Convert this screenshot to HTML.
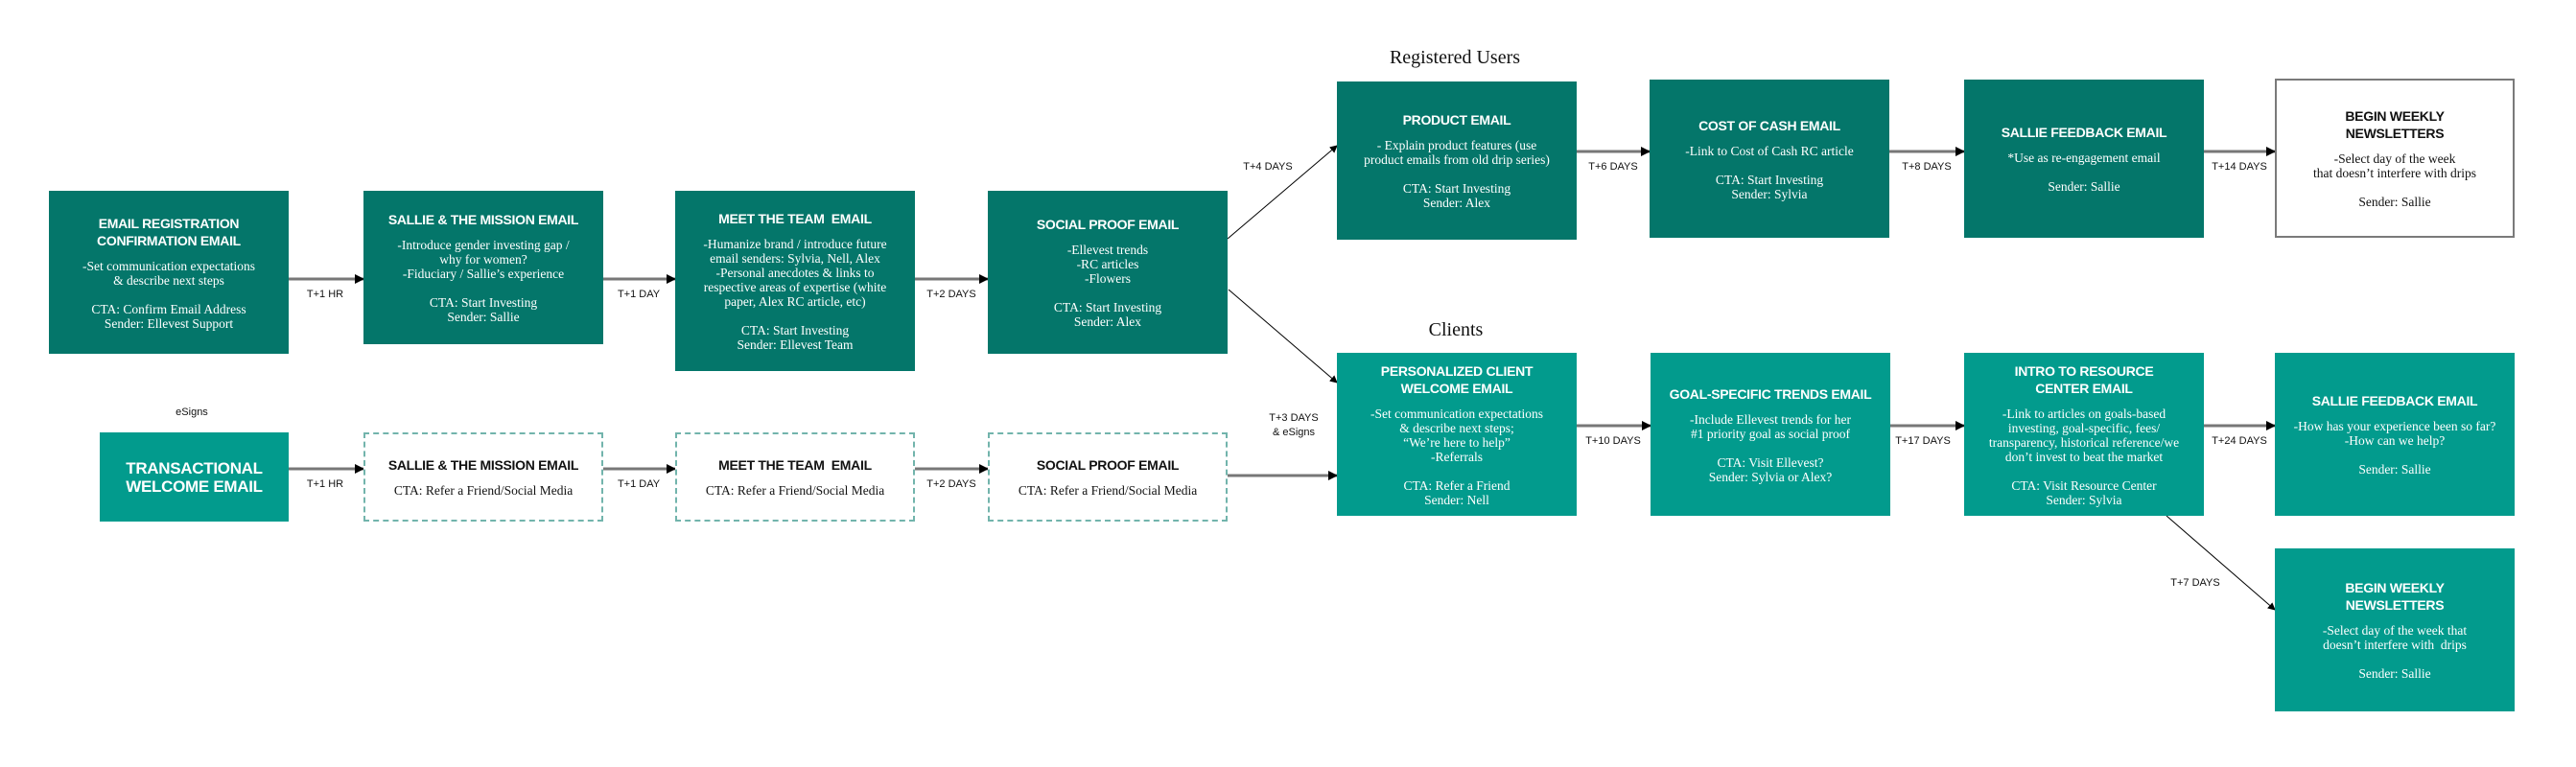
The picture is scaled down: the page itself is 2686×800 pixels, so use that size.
<!DOCTYPE html>
<html><head><meta charset="utf-8"><style>
body{margin:0;width:2686px;height:800px;background:#fff;position:relative;overflow:hidden}
.b{position:absolute;width:250px;display:flex;flex-direction:column;justify-content:center;align-items:center;text-align:center;box-sizing:border-box;color:#fff;font-family:"Liberation Serif",serif;font-size:13.5px;line-height:15px;padding:0 6px}
.d{background:#04766a}.l{background:#029b8d}
.w{background:#fff;color:#111;border:2px solid #7a7a7a}
.x{background:#fff;color:#111;border:2px dashed #72b4ac}
.t{font-family:"Liberation Sans",sans-serif;font-weight:bold;font-size:14px;line-height:18px;margin-bottom:10px;letter-spacing:-0.3px}
.big{font-size:17px;line-height:19px;margin:0}
.h{position:absolute;font-family:"Liberation Serif",serif;font-size:20px;color:#111;transform:translateX(-50%)}
</style></head><body>
<svg width="2686" height="800" style="position:absolute;left:0;top:0">
<defs>
<marker id="a" markerWidth="8" markerHeight="8" refX="7" refY="4" orient="auto" markerUnits="userSpaceOnUse"><path d="M0,0L8,4L0,8z" fill="#000"/></marker>
<marker id="s" markerWidth="10" markerHeight="10" refX="9" refY="5" orient="auto" markerUnits="userSpaceOnUse"><path d="M0,0L10,5L0,10z" fill="#000"/></marker>
</defs>
<g stroke="#777" stroke-width="3" fill="none" marker-end="url(#s)">
<path d="M301,291H379"/><path d="M629,291H704"/><path d="M954,291H1030"/>
<path d="M1644,158H1720"/><path d="M1970,158H2048"/><path d="M2298,158H2372"/>
<path d="M301,489H379"/><path d="M629,489H704"/><path d="M954,489H1030"/><path d="M1280,496H1394"/>
<path d="M1644,444H1721"/><path d="M1971,444H2048"/><path d="M2298,444H2372"/>
</g>
<g stroke="#000" stroke-width="1" fill="none" marker-end="url(#a)">
<path d="M1280,249L1394,152"/><path d="M1281,302L1394,399"/><path d="M2259,538L2372,636"/>
</g>
<g font-family="Liberation Sans,sans-serif" font-size="11" fill="#111" text-anchor="middle">
<text x="339" y="310">T+1 HR</text><text x="666" y="310">T+1 DAY</text><text x="992" y="310">T+2 DAYS</text>
<text x="339" y="508">T+1 HR</text><text x="666" y="508">T+1 DAY</text><text x="992" y="508">T+2 DAYS</text>
<text x="200" y="433">eSigns</text>
<text x="1322" y="177">T+4 DAYS</text><text x="1682" y="177">T+6 DAYS</text><text x="2009" y="177">T+8 DAYS</text><text x="2335" y="177">T+14 DAYS</text>
<text x="1349" y="439">T+3 DAYS</text><text x="1349" y="454">&amp; eSigns</text>
<text x="1682" y="463">T+10 DAYS</text><text x="2005" y="463">T+17 DAYS</text><text x="2335" y="463">T+24 DAYS</text>
<text x="2289" y="611">T+7 DAYS</text>
</g>
</svg>
<div class="h" style="left:1517px;top:49px">Registered Users</div>
<div class="h" style="left:1518px;top:333px">Clients</div>

<div class="b d" style="left:51px;top:199px;height:170px"><div class="t">EMAIL REGISTRATION<br>CONFIRMATION EMAIL</div>-Set communication expectations<br>&amp; describe next steps<br><br>CTA: Confirm Email Address<br>Sender: Ellevest Support</div>
<div class="b d" style="left:379px;top:199px;height:160px"><div class="t">SALLIE &amp; THE MISSION EMAIL</div>-Introduce gender investing gap /<br>why for women?<br>-Fiduciary / Sallie’s experience<br><br>CTA: Start Investing<br>Sender: Sallie</div>
<div class="b d" style="left:704px;top:199px;height:188px"><div class="t">MEET THE TEAM &nbsp;EMAIL</div>-Humanize brand / introduce future<br>email senders: Sylvia, Nell, Alex<br>-Personal anecdotes &amp; links to<br>respective areas of expertise (white<br>paper, Alex RC article, etc)<br><br>CTA: Start Investing<br>Sender: Ellevest Team</div>
<div class="b d" style="left:1030px;top:199px;height:170px"><div class="t">SOCIAL PROOF EMAIL</div>-Ellevest trends<br>-RC articles<br>-Flowers<br><br>CTA: Start Investing<br>Sender: Alex</div>
<div class="b d" style="left:1394px;top:85px;height:165px"><div class="t">PRODUCT EMAIL</div>- Explain product features (use<br>product emails from old drip series)<br><br>CTA: Start Investing<br>Sender: Alex</div>
<div class="b d" style="left:1720px;top:83px;height:165px"><div class="t">COST OF CASH EMAIL</div>-Link to Cost of Cash RC article<br><br>CTA: Start Investing<br>Sender: Sylvia</div>
<div class="b d" style="left:2048px;top:83px;height:165px"><div class="t">SALLIE FEEDBACK EMAIL</div>*Use as re-engagement email<br><br>Sender: Sallie</div>
<div class="b w" style="left:2372px;top:82px;height:166px"><div class="t">BEGIN WEEKLY<br>NEWSLETTERS</div>-Select day of the week<br>that doesn’t interfere with drips<br><br>Sender: Sallie</div>

<div class="b l" style="left:104px;top:451px;width:197px;height:93px"><div class="t big">TRANSACTIONAL<br>WELCOME EMAIL</div></div>
<div class="b x" style="left:379px;top:451px;height:93px"><div class="t">SALLIE &amp; THE MISSION EMAIL</div>CTA: Refer a Friend/Social Media</div>
<div class="b x" style="left:704px;top:451px;height:93px"><div class="t">MEET THE TEAM &nbsp;EMAIL</div>CTA: Refer a Friend/Social Media</div>
<div class="b x" style="left:1030px;top:451px;height:93px"><div class="t">SOCIAL PROOF EMAIL</div>CTA: Refer a Friend/Social Media</div>
<div class="b l" style="left:1394px;top:368px;height:170px"><div class="t">PERSONALIZED CLIENT<br>WELCOME EMAIL</div>-Set communication expectations<br>&amp; describe next steps;<br>“We’re here to help”<br>-Referrals<br><br>CTA: Refer a Friend<br>Sender: Nell</div>
<div class="b l" style="left:1721px;top:368px;height:170px"><div class="t">GOAL-SPECIFIC TRENDS EMAIL</div>-Include Ellevest trends for her<br>#1 priority goal as social proof<br><br>CTA: Visit Ellevest?<br>Sender: Sylvia or Alex?</div>
<div class="b l" style="left:2048px;top:368px;height:170px"><div class="t">INTRO TO RESOURCE<br>CENTER EMAIL</div>-Link to articles on goals-based<br>investing, goal-specific, fees/<br>transparency, historical reference/we<br>don’t invest to beat the market<br><br>CTA: Visit Resource Center<br>Sender: Sylvia</div>
<div class="b l" style="left:2372px;top:368px;height:170px"><div class="t">SALLIE FEEDBACK EMAIL</div>-How has your experience been so far?<br>-How can we help?<br><br>Sender: Sallie</div>
<div class="b l" style="left:2372px;top:572px;height:170px"><div class="t">BEGIN WEEKLY<br>NEWSLETTERS</div>-Select day of the week that<br>doesn’t interfere with &nbsp;drips<br><br>Sender: Sallie</div>
</body></html>
